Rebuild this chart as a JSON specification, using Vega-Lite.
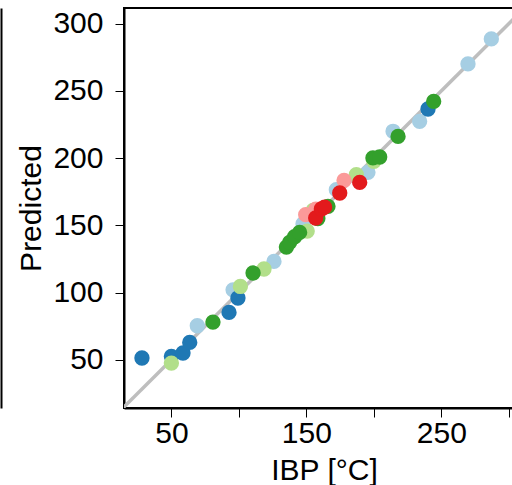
{
  "$schema": "https://vega.github.io/schema/vega-lite/v6.json",
  "width": 400,
  "height": 400,
  "autosize": "none",
  "padding": {"left": 124, "top": 8, "right": -12, "bottom": 77},
  "background": "white",
  "config": {
    "view": {"stroke": "black", "strokeWidth": 2},
    "font": "Liberation Sans",
    "axis": {
      "grid": false,
      "domainColor": "black",
      "domainWidth": 2,
      "tickColor": "black",
      "tickWidth": 1,
      "tickSize": 9,
      "labelColor": "black",
      "labelFont": "Liberation Sans",
      "labelFontSize": 30,
      "titleFont": "Liberation Sans",
      "titleFontSize": 30,
      "titleFontWeight": "normal",
      "titleColor": "black"
    }
  },
  "layer": [
    {
      "data": {"values": [{"x": 0, "y": 0}, {"x": 330, "y": 330}]},
      "mark": {"type": "line", "color": "#bebebe", "strokeWidth": 3.5, "clip": true},
      "encoding": {
        "x": {"field": "x", "type": "quantitative", "scale": {"domain": [14.9, 311.2], "nice": false, "zero": false}},
        "y": {"field": "y", "type": "quantitative", "scale": {"domain": [14.1, 311.6], "nice": false, "zero": false},
              "axis": {"orient": "left", "offset": 123, "labels": false, "ticks": false, "title": null}}
      }
    },
    {
      "data": {"values": [{}]},
      "mark": {"type": "rule", "color": "black", "strokeWidth": 2},
      "encoding": {
        "y": {"datum": 311.6, "type": "quantitative", "axis": null}
      }
    },
    {
      "data": {"values": [
        {"ibp": 69.2, "pred": 75.3, "group": "A"},
        {"ibp": 95.7, "pred": 102, "group": "A"},
        {"ibp": 126, "pred": 123.1, "group": "A"},
        {"ibp": 147.5, "pred": 151, "group": "A"},
        {"ibp": 172.2, "pred": 176.5, "group": "A"},
        {"ibp": 195.6, "pred": 189.4, "group": "A"},
        {"ibp": 214.2, "pred": 219.9, "group": "A"},
        {"ibp": 233.9, "pred": 227.3, "group": "A"},
        {"ibp": 269.7, "pred": 270, "group": "A"},
        {"ibp": 287, "pred": 288.6, "group": "A"},
        {"ibp": 28.2, "pred": 51.3, "group": "B"},
        {"ibp": 50, "pred": 52.5, "group": "B"},
        {"ibp": 58.6, "pred": 55, "group": "B"},
        {"ibp": 63.6, "pred": 62.9, "group": "B"},
        {"ibp": 92.7, "pred": 85.2, "group": "B"},
        {"ibp": 99.3, "pred": 95.9, "group": "B"},
        {"ibp": 240.1, "pred": 236.5, "group": "B"},
        {"ibp": 50, "pred": 47.5, "group": "C"},
        {"ibp": 101.1, "pred": 104.5, "group": "C"},
        {"ibp": 118.6, "pred": 117.5, "group": "C"},
        {"ibp": 150.6, "pred": 145.7, "group": "C"},
        {"ibp": 155, "pred": 161, "group": "C"},
        {"ibp": 187, "pred": 187.6, "group": "C"},
        {"ibp": 200, "pred": 197.5, "group": "C"},
        {"ibp": 80.8, "pred": 78, "group": "D"},
        {"ibp": 110.5, "pred": 114.5, "group": "D"},
        {"ibp": 135.2, "pred": 133.8, "group": "D"},
        {"ibp": 137.6, "pred": 137.3, "group": "D"},
        {"ibp": 141.3, "pred": 141.5, "group": "D"},
        {"ibp": 145, "pred": 144.7, "group": "D"},
        {"ibp": 158.5, "pred": 155, "group": "D"},
        {"ibp": 166, "pred": 164.1, "group": "D"},
        {"ibp": 199.3, "pred": 200.1, "group": "D"},
        {"ibp": 204.3, "pred": 200.8, "group": "D"},
        {"ibp": 217.9, "pred": 216.1, "group": "D"},
        {"ibp": 244.3, "pred": 242.2, "group": "D"},
        {"ibp": 149.5, "pred": 157.9, "group": "E"},
        {"ibp": 157, "pred": 162, "group": "E"},
        {"ibp": 177.9, "pred": 183.4, "group": "E"},
        {"ibp": 156.9, "pred": 155.4, "group": "F"},
        {"ibp": 161.1, "pred": 162.1, "group": "F"},
        {"ibp": 163.5, "pred": 163.5, "group": "F"},
        {"ibp": 174.7, "pred": 174, "group": "F"},
        {"ibp": 189.5, "pred": 181.9, "group": "F"}
      ]},
      "mark": {"type": "circle", "size": 235, "opacity": 1},
      "encoding": {
        "x": {"field": "ibp", "type": "quantitative", "scale": {"domain": [14.9, 311.2], "nice": false, "zero": false},
              "axis": {"orient": "bottom", "values": [50, 100, 150, 200, 250, 300],
                       "labelExpr": "datum.value % 100 == 50 ? datum.label : ''",
                       "labelPadding": 1, "title": "IBP [°C]", "titleY": 71,
                       "titleBaseline": "alphabetic", "titleAlign": "center"}},
        "y": {"field": "pred", "type": "quantitative", "scale": {"domain": [14.1, 311.6], "nice": false, "zero": false},
              "axis": {"orient": "left", "values": [50, 100, 150, 200, 250, 300],
                       "labelPadding": 12, "title": "Predicted", "titleX": -84, "titleY": 200,
                       "titleBaseline": "alphabetic", "titleAlign": "center", "titleAngle": -90}},
        "color": {"field": "group", "type": "nominal",
                  "scale": {"domain": ["A", "B", "C", "D", "E", "F"],
                            "range": ["#a6cee3", "#1f78b4", "#b2df8a", "#33a02c", "#fb9a99", "#e31a1c"]},
                  "legend": null}
      }
    }
  ],
  "resolve": {"axis": {"y": "independent"}}
}
